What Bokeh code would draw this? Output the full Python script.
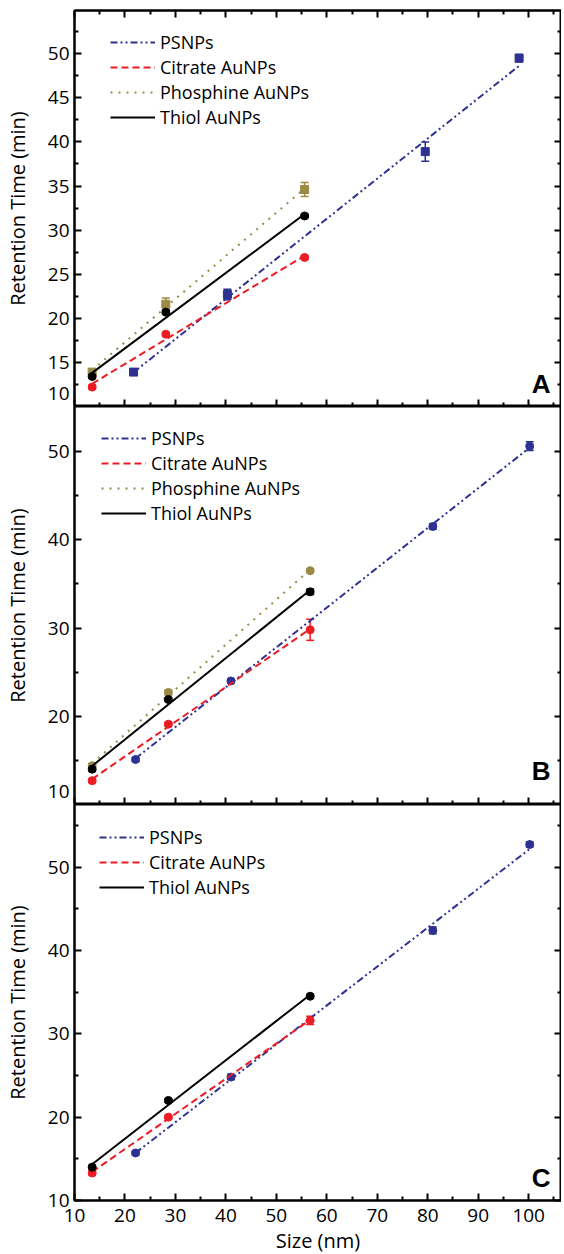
import numpy as np
from bokeh.plotting import figure
from bokeh.models import (LinearAxis, FixedTicker, Range1d, Legend, LegendItem,
                          Whisker, ColumnDataSource, Label, TeeHead)
from bokeh.layouts import column
from bokeh.embed import file_html
from bokeh.resources import INLINE

FONT = "Open Sans"

# ---------------- data ----------------
# Panel A
A_ps_size = [21.7, 40.3, 79.5, 98.1]
A_ps_time = [13.9, 22.7, 38.9, 49.5]
A_ps_err = [0.3, 0.6, 1.1, 0.4]
A_au_size = [13.5, 28.1, 55.6]
A_cit_time = [12.2, 18.2, 26.9]
A_cit_err = [0.2, 0.2, 0.2]
A_pho_time = [13.9, 21.6, 34.6]
A_pho_err = [0.3, 0.7, 0.8]
A_thi_time = [13.4, 20.7, 31.6]
A_thi_err = [0.2, 0.2, 0.2]

# Panel B
B_ps_size = [22.1, 41.0, 81.0, 100.2]
B_ps_time = [15.1, 24.0, 41.5, 50.6]
B_ps_err = [0.2, 0.2, 0.3, 0.5]
B_au_size = [13.5, 28.6, 56.7]
B_cit_time = [12.7, 19.1, 29.8]
B_cit_err = [0.2, 0.2, 1.2]
B_pho_time = [14.4, 22.7, 36.5]
B_pho_err = [0.2, 0.3, 0.2]
B_thi_time = [14.0, 21.9, 34.1]
B_thi_err = [0.2, 0.2, 0.3]

# Panel C
C_ps_size = [22.1, 41.0, 81.0, 100.2]
C_ps_time = [15.7, 24.8, 42.4, 52.7]
C_ps_err = [0.2, 0.3, 0.4, 0.3]
C_au_size = [13.5, 28.6, 56.7]
C_cit_time = [13.3, 20.0, 31.6]
C_cit_err = [0.2, 0.2, 0.5]
C_thi_time = [14.0, 22.0, 34.5]
C_thi_err = [0.2, 0.2, 0.2]

# ticks
x_major = [10, 20, 30, 40, 50, 60, 70, 80, 90, 100]
x_minor = [15, 25, 35, 45, 55, 65, 75, 85, 95, 105]
A_y_major = [10, 15, 20, 25, 30, 35, 40, 45, 50]
A_y_minor = [12.5, 17.5, 22.5, 27.5, 32.5, 37.5, 42.5, 47.5, 52.5]
B_y_major = [10, 20, 30, 40, 50]
B_y_minor = [15, 25, 35, 45]
C_y_major = [10, 20, 30, 40, 50]
C_y_minor = [15, 25, 35, 45, 55]

x_label = "Size (nm)"
y_label = "Retention Time (min)"

# ---------------- styles ----------------
BLUE = "#2E3192"
RED = "#ED1C24"
OLIVE = "#9A8A45"
BLACK = "#000000"
STY = {
    "PSNPs": dict(color=BLUE, dash="7 3 2 3 2 3"),
    "Citrate AuNPs": dict(color=RED, dash="7 4"),
    "Phosphine AuNPs": dict(color=OLIVE, dash="2 6"),
    "Thiol AuNPs": dict(color=BLACK, dash="solid"),
}
FW = 487
TICK_FS = "19px"
LBL_SHIFT = 10  # empirical baseline correction for Label annotations


def style_ticks(ax, show_line=True):
    ax.axis_line_width = 2
    ax.axis_line_color = "black" if show_line else None
    ax.major_tick_in = 7
    ax.major_tick_out = 0
    ax.minor_tick_in = 4
    ax.minor_tick_out = 0
    ax.major_tick_line_width = 2
    ax.minor_tick_line_width = 2
    ax.major_tick_line_color = "black" if show_line else None
    ax.minor_tick_line_color = "black" if show_line else None


def hide_labels(ax):
    ax.major_label_text_font_size = "1px"
    ax.major_label_text_color = None
    ax.major_label_standoff = 0


def show_labels(ax, standoff, axis_label, axis_label_standoff):
    ax.major_label_text_font = FONT
    ax.major_label_text_font_size = TICK_FS
    ax.major_label_text_color = "black"
    ax.major_label_standoff = standoff
    ax.axis_label = axis_label
    ax.axis_label_text_font = FONT
    ax.axis_label_text_font_size = "20px"
    ax.axis_label_text_font_style = "normal"
    ax.axis_label_text_color = "black"
    ax.axis_label_standoff = axis_label_standoff


def draw_series(p, name, xs, ys, err, marker):
    st = STY[name]
    k, b = np.polyfit(xs, ys, 1)
    fx = [min(xs), max(xs)]
    fy = [k * x + b for x in fx]
    line = p.line(fx, fy, line_color=st["color"], line_width=2, line_dash=st["dash"])
    src = ColumnDataSource(dict(x=xs, y=ys,
                                lo=[y - e for y, e in zip(ys, err)],
                                hi=[y + e for y, e in zip(ys, err)]))
    w = Whisker(base="x", upper="hi", lower="lo", source=src, dimension="height",
                line_color=st["color"], line_width=1.5,
                upper_head=TeeHead(size=8, line_color=st["color"], line_width=1.5),
                lower_head=TeeHead(size=8, line_color=st["color"], line_width=1.5))
    p.add_layout(w)
    p.scatter("x", "y", source=src, marker=marker, size=8,
              fill_color=st["color"], line_color=st["color"])
    return line


def make_panel(ymax, fh, y_major, y_minor, top_ticks, show_x, series,
               legend_loc, letter, letter_dy, ten_lift):
    p = figure(frame_width=FW, frame_height=fh,
               x_range=Range1d(10, 106.5), y_range=Range1d(10, ymax),
               output_backend="svg", toolbar_location=None,
               x_axis_location=None, y_axis_location=None,
               min_border_left=74, min_border_right=0,
               min_border_top=10 if top_ticks else 0, min_border_bottom=0)
    p.grid.visible = False
    p.outline_line_color = "black"
    p.outline_line_width = 2
    p.background_fill_color = "white"

    xt = FixedTicker(ticks=x_major, minor_ticks=x_minor)
    yt = FixedTicker(ticks=y_major, minor_ticks=y_minor)

    # left: tick marks on the frame edge ...
    left_ticks = LinearAxis(ticker=yt)
    style_ticks(left_ticks)
    hide_labels(left_ticks)
    p.add_layout(left_ticks, "left")
    # ... and the labels on a second, mark-less axis; the lowest label ("10") is
    # lifted a little when the next panel starts right under this one
    label_pos = [y_major[0] + ten_lift] + y_major[1:]
    overrides = {label_pos[0]: str(y_major[0])}
    left_lbl = LinearAxis(ticker=FixedTicker(ticks=label_pos, minor_ticks=[]),
                          major_label_overrides=overrides)
    style_ticks(left_lbl, show_line=False)
    show_labels(left_lbl, 5, y_label, 14)
    p.add_layout(left_lbl, "left")

    right = LinearAxis(ticker=yt)
    style_ticks(right)
    hide_labels(right)
    p.add_layout(right, "right")

    bottom = LinearAxis(ticker=xt)
    style_ticks(bottom)
    if show_x:
        show_labels(bottom, 8, x_label, 2)
    else:
        hide_labels(bottom)
    p.add_layout(bottom, "below")

    if top_ticks:
        top = LinearAxis(ticker=xt)
        style_ticks(top)
        hide_labels(top)
        p.add_layout(top, "above")

    items = []
    for name, xs, ys, err, marker in series:
        r = draw_series(p, name, xs, ys, err, marker)
        items.append(LegendItem(label=name, renderers=[r]))
    n = len(items)
    lh = n * 24 + (n - 1) * 1
    legend = Legend(items=items, location=(legend_loc[0], fh - legend_loc[1] - lh),
                    label_text_font=FONT, label_text_font_size="18px",
                    label_text_color="black",
                    glyph_width=45, glyph_height=24, label_height=24,
                    label_standoff=5, spacing=1, padding=0, margin=0,
                    border_line_color=None, background_fill_alpha=0)
    p.add_layout(legend)

    p.add_layout(Label(x=FW - 11, y=letter_dy + LBL_SHIFT, x_units="screen", y_units="screen",
                       text=letter, text_align="right", text_baseline="alphabetic",
                       text_font="Liberation Sans", text_font_style="bold",
                       text_font_size="26px", text_color="black"))
    return p


pA = make_panel(54.9, 396, A_y_major, A_y_minor, True, False, [
    ("PSNPs", A_ps_size, A_ps_time, A_ps_err, "square"),
    ("Citrate AuNPs", A_au_size, A_cit_time, A_cit_err, "circle"),
    ("Phosphine AuNPs", A_au_size, A_pho_time, A_pho_err, "square"),
    ("Thiol AuNPs", A_au_size, A_thi_time, A_thi_err, "circle"),
], (36, 20), "A", 13, 1.5)

pB = make_panel(55.1, 398, B_y_major, B_y_minor, False, False, [
    ("PSNPs", B_ps_size, B_ps_time, B_ps_err, "circle"),
    ("Citrate AuNPs", B_au_size, B_cit_time, B_cit_err, "circle"),
    ("Phosphine AuNPs", B_au_size, B_pho_time, B_pho_err, "circle"),
    ("Thiol AuNPs", B_au_size, B_thi_time, B_thi_err, "circle"),
], (27, 20), "B", 24, 1.5)

pC = make_panel(57.5, 396, C_y_major, C_y_minor, False, True, [
    ("PSNPs", C_ps_size, C_ps_time, C_ps_err, "circle"),
    ("Citrate AuNPs", C_au_size, C_cit_time, C_cit_err, "circle"),
    ("Thiol AuNPs", C_au_size, C_thi_time, C_thi_err, "circle"),
], (25, 21), "C", 13, 0.0)

layout = column(pA, pB, pC, spacing=0)
open("out.html", "w").write(file_html(layout, INLINE))
